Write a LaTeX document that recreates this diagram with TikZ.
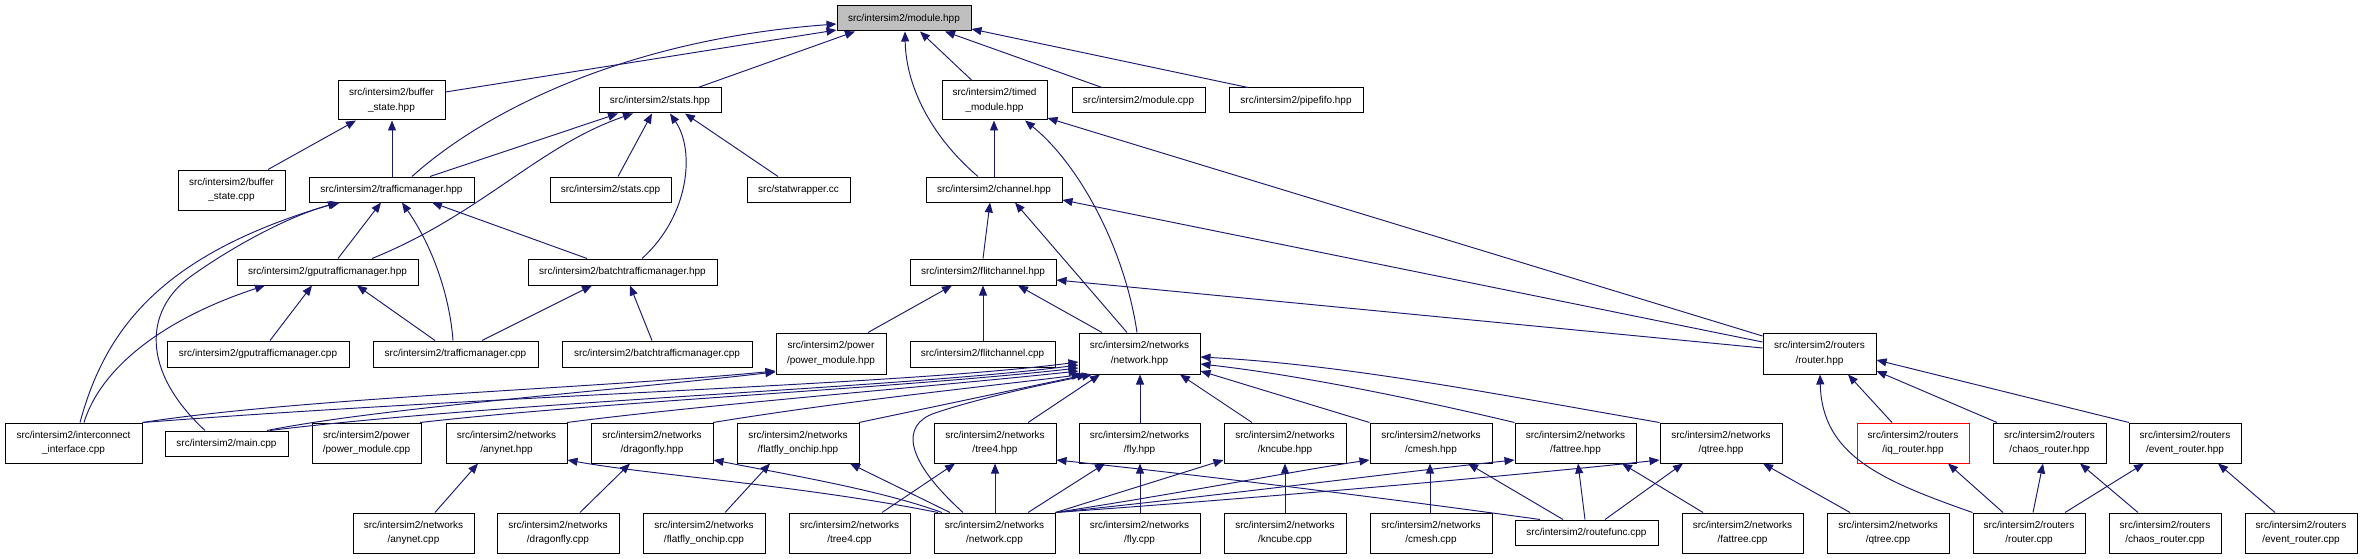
\documentclass[tikz,border=0pt]{standalone}
\usepackage{fontspec}
\setmainfont{Liberation Sans}
\usetikzlibrary{arrows.meta}
\definecolor{edgeblue}{RGB}{25,25,112}
\newcommand\mkbox[7][]{\node[box,#1, minimum width={#4-#3}, minimum height={#6-#5}] (#2) at ({(#3+#4)/2},{(#5+#6)/2}) {#7};}
\tikzset{
 box/.style={draw=black, line width=1pt, fill=white, inner sep=0pt, align=center, font=\fontsize{10}{14.5}\selectfont},
 edge/.style={draw=edgeblue, line width=0.95pt, -{Triangle[length=10pt,width=8pt]}},
}
\begin{document}
\begin{tikzpicture}[x=1pt,y=-1pt]
\useasboundingbox (0,0) rectangle (2363,559);
% nodes
\mkbox[fill=gray!50]{mod}{837}{971}{6}{31}{src/intersim2/module.hpp}
\mkbox{bsh}{338}{445}{81}{120}{src/intersim2/buffer\\\_state.hpp}
\mkbox{sth}{599}{721}{88}{113}{src/intersim2/stats.hpp}
\mkbox{tmh}{942}{1047}{81}{120}{src/intersim2/timed\\\_module.hpp}
\mkbox{mcp}{1072}{1205}{88}{113}{src/intersim2/module.cpp}
\mkbox{pfh}{1229}{1363}{88}{113}{src/intersim2/pipefifo.hpp}
\mkbox{bsc}{178}{285}{170}{210}{src/intersim2/buffer\\\_state.cpp}
\mkbox{tfh}{309}{474}{177}{202}{src/intersim2/trafficmanager.hpp}
\mkbox{stc}{550}{671}{177}{202}{src/intersim2/stats.cpp}
\mkbox{swc}{747}{850}{177}{202}{src/statwrapper.cc}
\mkbox{chh}{926}{1062}{177}{202}{src/intersim2/channel.hpp}
\mkbox{gth}{237}{418}{259}{285}{src/intersim2/gputrafficmanager.hpp}
\mkbox{bth}{528}{717}{259}{285}{src/intersim2/batchtrafficmanager.hpp}
\mkbox{fch}{910}{1056}{259}{285}{src/intersim2/flitchannel.hpp}
\mkbox{gtc}{167}{349}{341}{367}{src/intersim2/gputrafficmanager.cpp}
\mkbox{tfc}{373}{538}{341}{367}{src/intersim2/trafficmanager.cpp}
\mkbox{btc}{562}{752}{341}{367}{src/intersim2/batchtrafficmanager.cpp}
\mkbox{pmh}{776}{886}{333}{374}{src/intersim2/power\\/power\_module.hpp}
\mkbox{fcc}{910}{1055}{341}{367}{src/intersim2/flitchannel.cpp}
\mkbox{nwh}{1079}{1200}{333}{374}{src/intersim2/networks\\/network.hpp}
\mkbox{rth}{1763}{1876}{333}{374}{src/intersim2/routers\\/router.hpp}
\mkbox{iic}{5}{142}{423}{463}{src/intersim2/interconnect\\\_interface.cpp}
\mkbox{mnc}{165}{288}{431}{456}{src/intersim2/main.cpp}
\mkbox{pmc}{312}{421}{423}{463}{src/intersim2/power\\/power\_module.cpp}
\mkbox{anh}{446}{567}{423}{463}{src/intersim2/networks\\/anynet.hpp}
\mkbox{dfh}{591}{713}{423}{463}{src/intersim2/networks\\/dragonfly.hpp}
\mkbox{ffh}{737}{859}{423}{463}{src/intersim2/networks\\/flatfly\_onchip.hpp}
\mkbox{t4h}{934}{1056}{423}{463}{src/intersim2/networks\\/tree4.hpp}
\mkbox{flh}{1079}{1200}{423}{463}{src/intersim2/networks\\/fly.hpp}
\mkbox{kch}{1224}{1346}{423}{463}{src/intersim2/networks\\/kncube.hpp}
\mkbox{cmh}{1370}{1492}{423}{463}{src/intersim2/networks\\/cmesh.hpp}
\mkbox{fth}{1515}{1636}{423}{463}{src/intersim2/networks\\/fattree.hpp}
\mkbox{qth}{1660}{1782}{423}{463}{src/intersim2/networks\\/qtree.hpp}
\mkbox[draw=red]{iqh}{1857}{1969}{423}{463}{src/intersim2/routers\\/iq\_router.hpp}
\mkbox{chr}{1993}{2106}{423}{463}{src/intersim2/routers\\/chaos\_router.hpp}
\mkbox{evh}{2129}{2241}{423}{463}{src/intersim2/routers\\/event\_router.hpp}
\mkbox{anc}{353}{474}{513}{553}{src/intersim2/networks\\/anynet.cpp}
\mkbox{dfc}{497}{619}{513}{553}{src/intersim2/networks\\/dragonfly.cpp}
\mkbox{ffc}{643}{765}{513}{553}{src/intersim2/networks\\/flatfly\_onchip.cpp}
\mkbox{t4c}{789}{910}{513}{553}{src/intersim2/networks\\/tree4.cpp}
\mkbox{nwc}{934}{1055}{513}{553}{src/intersim2/networks\\/network.cpp}
\mkbox{flc}{1079}{1200}{513}{553}{src/intersim2/networks\\/fly.cpp}
\mkbox{kcc}{1224}{1346}{513}{553}{src/intersim2/networks\\/kncube.cpp}
\mkbox{cmc}{1370}{1492}{513}{553}{src/intersim2/networks\\/cmesh.cpp}
\mkbox{rfc}{1515}{1658}{520}{545}{src/intersim2/routefunc.cpp}
\mkbox{ftc}{1682}{1803}{513}{553}{src/intersim2/networks\\/fattree.cpp}
\mkbox{qtc}{1827}{1949}{513}{553}{src/intersim2/networks\\/qtree.cpp}
\mkbox{rtc}{1973}{2085}{513}{553}{src/intersim2/routers\\/router.cpp}
\mkbox{crc}{2109}{2221}{513}{553}{src/intersim2/routers\\/chaos\_router.cpp}
\mkbox{erc}{2245}{2357}{513}{553}{src/intersim2/routers\\/event\_router.cpp}
% edges into module.hpp
\draw[edge] (bsh.east |- 0,92) -- (mod.west |- 0,30);
\draw[edge] (tfh.north -| 412,0) .. controls (480,115) and (620,40) .. (mod.west |- 0,24);
\draw[edge] (sth.north -| 698,0) -- (mod.south -| 855,0);
\draw[edge] (chh.north -| 978,0) .. controls (935,140) and (906,90) .. (mod.south -| 905,0);
\draw[edge] (tmh.north -| 972,0) -- (mod.south -| 920,0);
\draw[edge] (mcp.north -| 1102,0) -- (mod.south -| 945,0);
\draw[edge] (pfh.north -| 1248,0) -- (mod.east |- 0,29);
% buffer_state / stats
\draw[edge] (bsc.north -| 268,0) -- (bsh.south -| 356,0);
\draw[edge] (tfh.north -| 392,0) -- (bsh.south -| 392,0);
\draw[edge] (tfh.north -| 430,0) -- (sth.south -| 618,0);
\draw[edge] (gth.north -| 372,0) .. controls (480,215) and (540,145) .. (sth.south -| 633,0);
\draw[edge] (stc.north -| 618,0) -- (sth.south -| 652,0);
\draw[edge] (bth.north -| 642,0) .. controls (690,215) and (695,150) .. (sth.south -| 670,0);
\draw[edge] (swc.north -| 778,0) -- (sth.south -| 685,0);
% trafficmanager family
\draw[edge] (iic.north -| 80,0) .. controls (105,330) and (160,255) .. (tfh.south -| 338,0);
\draw[edge] (mnc.north -| 205,0) .. controls (140,370) and (145,310) .. (190,277) .. controls (230,248) and (290,215) .. (tfh.south -| 340,0);
\draw[edge] (gth.north -| 338,0) -- (tfh.south -| 381,0);
\draw[edge] (tfc.north -| 453,0) .. controls (450,300) and (435,250) .. (tfh.south -| 402,0);
\draw[edge] (bth.north -| 587,0) -- (tfh.south -| 432,0);
\draw[edge] (iic.north -| 84,0) .. controls (100,370) and (160,320) .. (gth.south -| 265,0);
\draw[edge] (gtc.north -| 270,0) -- (gth.south -| 312,0);
\draw[edge] (tfc.north -| 435,0) -- (gth.south -| 357,0);
\draw[edge] (tfc.north -| 482,0) -- (bth.south -| 592,0);
\draw[edge] (btc.north -| 652,0) -- (bth.south -| 630,0);
% channels
\draw[edge] (chh.north -| 994,0) -- (tmh.south -| 994,0);
\draw[edge] (nwh.north -| 1137,0) .. controls (1125,250) and (1080,165) .. (tmh.south -| 1025,0);
\draw[edge] (rth.west |- 0,336) -- (tmh.east |- 0,118);
\draw[edge] (fch.north -| 983,0) -- (chh.south -| 990,0);
\draw[edge] (nwh.north -| 1127,0) -- (chh.south -| 1015,0);
\draw[edge] (rth.west |- 0,342) -- (chh.east |- 0,200);
\draw[edge] (pmh.north -| 868,0) -- (fch.south -| 952,0);
\draw[edge] (fcc.north -| 983,0) -- (fch.south -| 983,0);
\draw[edge] (nwh.north -| 1102,0) -- (fch.south -| 1018,0);
\draw[edge] (rth.west |- 0,348) -- (fch.east |- 0,280);
% power module
\draw[edge] (iic.north east) .. controls (300,398) and (600,388) .. (pmh.west |- 0,371);
\draw[edge] (mnc.north -| 267,0) .. controls (380,408) and (600,392) .. (pmh.west |- 0,372);
% network.hpp left group
\draw[edge] (iic.north east) .. controls (500,395) and (900,385) .. (nwh.west |- 0,362);
\draw[edge] (mnc.north -| 270,0) .. controls (500,402) and (900,388) .. (nwh.west |- 0,365);
\draw[edge] (pmc.north -| 420,0) .. controls (600,402) and (900,388) .. (nwh.west |- 0,368);
\draw[edge] (anh.north -| 567,0) .. controls (700,405) and (950,385) .. (nwh.west |- 0,371);
\draw[edge] (dfh.north -| 713,0) .. controls (850,400) and (1000,385) .. (nwh.south -| 1082,0);
\draw[edge] (ffh.north -| 859,0) -- (nwh.south -| 1087,0);
\draw[edge] (nwc.north -| 963,0) .. controls (905,460) and (900,425) .. (935,413) .. controls (980,398) and (1040,385) .. (nwh.south -| 1092,0);
\draw[edge] (t4h.north -| 1028,0) -- (nwh.south -| 1100,0);
\draw[edge] (flh.north -| 1140,0) -- (nwh.south -| 1140,0);
\draw[edge] (kch.north -| 1252,0) -- (nwh.south -| 1180,0);
\draw[edge] (cmh.north west) -- (nwh.east |- 0,371);
\draw[edge] (fth.north west) .. controls (1420,400) and (1300,375) .. (nwh.east |- 0,364);
\draw[edge] (qth.north west) .. controls (1500,395) and (1350,365) .. (nwh.east |- 0,357);
% lower networks
\draw[edge] (anc.north -| 435,0) -- (anh.south -| 478,0);
\draw[edge] (nwc.north -| 938,0) .. controls (800,485) and (650,475) .. (anh.east |- 0,460);
\draw[edge] (dfc.north -| 580,0) -- (dfh.south -| 630,0);
\draw[edge] (nwc.north -| 942,0) .. controls (880,490) and (790,475) .. (dfh.east |- 0,460);
\draw[edge] (ffc.north -| 725,0) -- (ffh.south -| 770,0);
\draw[edge] (nwc.north -| 950,0) -- (ffh.south -| 850,0);
\draw[edge] (t4c.north -| 882,0) -- (t4h.south -| 955,0);
\draw[edge] (nwc.north -| 995,0) -- (t4h.south -| 995,0);
\draw[edge] (rfc.north -| 1540,0) .. controls (1400,500) and (1200,475) .. (t4h.east |- 0,460);
\draw[edge] (nwc.north -| 1028,0) -- (flh.south -| 1105,0);
\draw[edge] (flc.north -| 1140,0) -- (flh.south -| 1140,0);
\draw[edge] (nwc.north east) -- (kch.west |- 0,460);
\draw[edge] (nwc.north east) .. controls (1200,490) and (1300,470) .. (cmh.west |- 0,460);
\draw[edge] (nwc.north east) .. controls (1250,492) and (1400,472) .. (fth.west |- 0,460);
\draw[edge] (nwc.north east) .. controls (1300,495) and (1550,472) .. (qth.west |- 0,460);
\draw[edge] (kcc.north -| 1285,0) -- (kch.south -| 1285,0);
\draw[edge] (cmc.north -| 1430,0) -- (cmh.south -| 1430,0);
\draw[edge] (rfc.north -| 1563,0) -- (cmh.south -| 1468,0);
\draw[edge] (ftc.north -| 1703,0) -- (fth.south -| 1622,0);
\draw[edge] (rfc.north -| 1585,0) -- (fth.south -| 1578,0);
\draw[edge] (rfc.north -| 1605,0) -- (qth.south -| 1683,0);
\draw[edge] (qtc.north -| 1850,0) -- (qth.south -| 1763,0);
% routers
\draw[edge] (iqh.north -| 1892,0) -- (rth.south -| 1848,0);
\draw[edge] (chr.north -| 1997,0) -- (rth.east |- 0,371);
\draw[edge] (evh.north -| 2129,0) -- (rth.east |- 0,360);
\draw[edge] (rtc.north west) .. controls (1880,480) and (1822,455) .. (rth.south -| 1820,0);
\draw[edge] (rtc.north -| 2003,0) -- (iqh.south -| 1948,0);
\draw[edge] (rtc.north -| 2033,0) -- (chr.south -| 2043,0);
\draw[edge] (rtc.north -| 2065,0) -- (evh.south -| 2144,0);
\draw[edge] (crc.north -| 2138,0) -- (chr.south -| 2080,0);
\draw[edge] (erc.north -| 2275,0) -- (evh.south -| 2218,0);
\end{tikzpicture}
\end{document}
